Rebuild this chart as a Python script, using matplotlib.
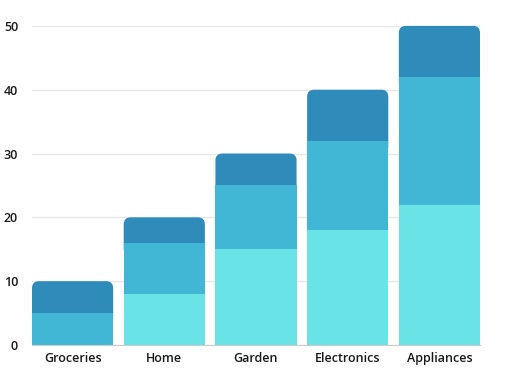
import matplotlib
matplotlib.use("Agg")
from matplotlib import pyplot as plt
from matplotlib.patches import FancyBboxPatch

plt.rcParams["font.family"] = ["Open Sans", "DejaVu Sans"]

categories = ["Groceries", "Home", "Garden", "Electronics", "Appliances"]
bottom_vals = [0, 8, 15, 18, 22]
middle_vals = [5, 8, 10, 14, 20]
top_vals = [5, 4, 5, 8, 8]

c_light = "#69e3e6"
c_mid = "#41b7d5"
c_dark = "#2e8bba"

fig = plt.figure(figsize=(5.12, 3.84), dpi=100)
ax = fig.add_axes([0.0625, 0.1016, 0.875, 0.831])

x = list(range(len(categories)))
w = 0.885
mid_bottom = bottom_vals
top_bottom = [b + m for b, m in zip(bottom_vals, middle_vals)]

ax.bar(x, bottom_vals, width=w, color=c_light, zorder=3)
ax.bar(x, middle_vals, width=w, bottom=mid_bottom, color=c_mid, zorder=3)
tops = ax.bar(x, top_vals, width=w, bottom=top_bottom, color=c_dark, zorder=3)

# swap the top segments for rounded-corner versions
px_x = 0.875 * 512 / (len(categories) - 1 + w)
px_y = 0.831 * 384 / 50
aspect = px_x / px_y
r = 7 / px_x
for rect in tops:
    rect.set_visible(False)
    rx, ry = rect.get_x(), rect.get_y()
    rw, rh = rect.get_width(), rect.get_height()
    patch = FancyBboxPatch((rx, ry - 2), rw, rh + 2,
                           boxstyle="round,pad=0,rounding_size=%f" % r,
                           mutation_aspect=aspect, facecolor=c_dark,
                           edgecolor="none", zorder=2, clip_on=False)
    ax.add_patch(patch)

ax.set_xlim(-w / 2, len(categories) - 1 + w / 2)
ax.set_ylim(0, 50)
ax.set_yticks([0, 10, 20, 30, 40, 50])
ax.set_xticks(x)
ax.set_xticklabels(categories)
ax.yaxis.grid(True, color="#e8e8e8", linewidth=1, zorder=0)
for s in ["top", "right", "left"]:
    ax.spines[s].set_visible(False)
ax.spines["bottom"].set_color("#cccccc")
ax.spines["bottom"].set_zorder(4)
ax.tick_params(axis="both", length=0, labelsize=9, labelcolor="#1a1a1a")
ax.tick_params(axis="y", pad=10)
ax.tick_params(axis="x", pad=5)
for lab in ax.get_xticklabels() + ax.get_yticklabels():
    lab.set_fontweight("semibold")

plt.savefig("out.png", dpi=100)
